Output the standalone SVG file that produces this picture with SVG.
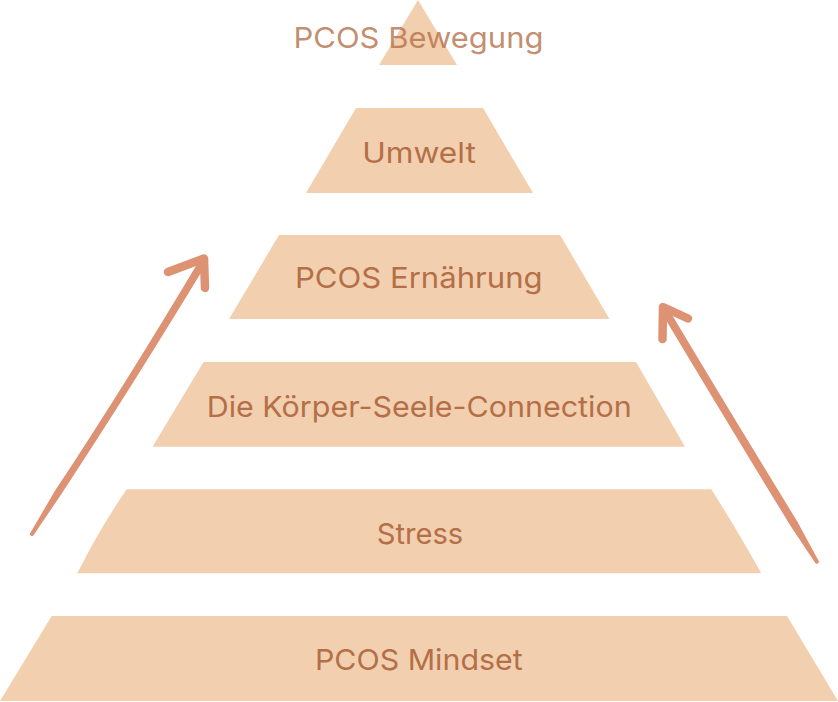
<svg xmlns="http://www.w3.org/2000/svg" width="838" height="702" viewBox="0 0 838 702">
<style>
.tier{fill:#F2CFAF;}
.lbl{font-family:Inter,"Open Sans","Liberation Sans",sans-serif;font-size:29px;font-weight:400;fill:#B46F48;text-anchor:middle;}
.top{fill-opacity:0.8;}
.shaft{fill:#DE9274;}
.head{fill:none;stroke:#DE9274;stroke-width:8.5;stroke-linecap:round;stroke-linejoin:round;}
</style>
<rect width="838" height="702" fill="#FFFFFF"/>
<g id="tier-bewegung">
<polygon class="tier" points="418,0 457,65 379,65"/>
<text class="lbl top" x="418.5" y="48.3" textLength="250" lengthAdjust="spacingAndGlyphs">PCOS Bewegung</text>
</g>
<g id="tier-umwelt">
<polygon class="tier" points="356,108 483,108 533,193 306,193"/>
<text class="lbl" x="419" y="163.3" textLength="113.7" lengthAdjust="spacingAndGlyphs">Umwelt</text>
</g>
<g id="tier-ernaehrung">
<polygon class="tier" points="279,235 560,235 609.5,319 229,319"/>
<text class="lbl" x="418.8" y="288.3" textLength="247.7" lengthAdjust="spacingAndGlyphs">PCOS Ernährung</text>
</g>
<g id="tier-koerper-seele">
<polygon class="tier" points="203.5,362 636,362 685,446.7 152.5,446.7"/>
<text class="lbl" x="419.2" y="416.7" textLength="425" lengthAdjust="spacingAndGlyphs">Die Körper-Seele-Connection</text>
</g>
<g id="tier-stress">
<path class="tier" d="M126.7,489.3 L711.3,489.3 Q736,528 761.3,573.3 L77.3,573.3 Q100,528 126.7,489.3 Z"/>
<text class="lbl" x="420" y="544" textLength="86.6" lengthAdjust="spacingAndGlyphs">Stress</text>
</g>
<g id="tier-mindset">
<polygon class="tier" points="51.7,616 787,616 838,701 0,701"/>
<text class="lbl" x="418.8" y="669.7" textLength="207.7" lengthAdjust="spacingAndGlyphs">PCOS Mindset</text>
</g>
<g id="connectors">
<g id="arrow-left">
<path class="shaft" d="M33.7,535.1 L61.1,494.4 Q130,390 208.4,260.6 L201.6,256.4 Q125,385 55.1,490.6 L30.3,532.9 A2,2 0 0 0 33.7,535.1 Z"/>
<polyline class="head" points="168,272 204,258.5 205,288"/>
</g>
<g id="arrow-right">
<path class="shaft" d="M818.7,561 L797.4,521.7 Q735,420 666.4,305.4 L659.6,309.6 Q728,424 790.6,525.9 L815.3,563 A2,2 0 0 0 818.7,561 Z"/>
<polyline class="head" points="662.5,339 663,307 688,318.5"/>
</g>
</g>
</svg>
